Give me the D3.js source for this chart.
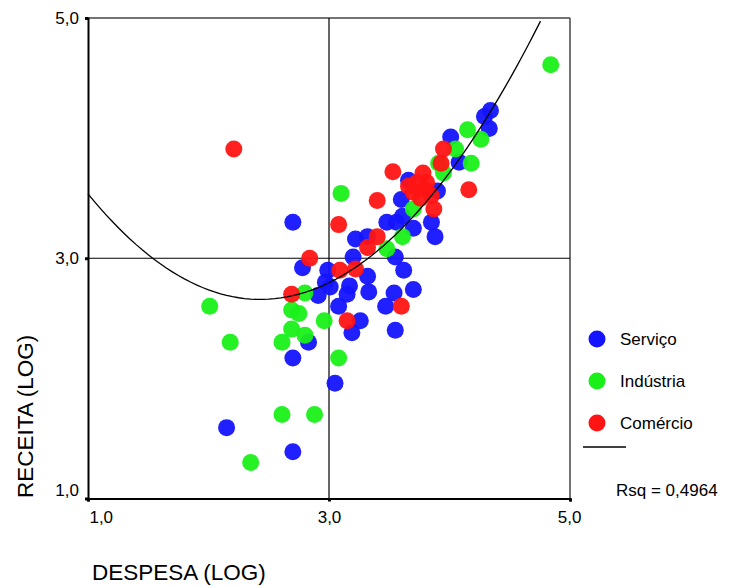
<!DOCTYPE html>
<html>
<head>
<meta charset="utf-8">
<script src="https://cdn.jsdelivr.net/npm/d3@7"></script>
<style>
  body { margin: 0; background: #fff; }
  svg { display: block; font-family: "Liberation Sans", Arial, sans-serif; }
</style>
</head>
<body>
<svg id="chart" width="731" height="586"></svg>
<script>
// ---- data (log despesa, log receita) ----
const servicoX = [2.70,4.34,4.29,4.33,4.01,4.08,3.90,3.85,3.88,3.48,3.56,3.70,3.22,3.32,3.20,3.55,3.60,3.66,3.61,2.78,2.99,3.62,3.32,2.97,2.91,3.17,3.33,3.15,3.54,3.70,3.08,3.47,3.26,3.19,3.55,2.83,3.05,2.70,2.15,2.70,3.01];
const servicoY = [3.30,4.23,4.18,4.08,4.01,3.80,3.56,3.30,3.18,3.30,3.30,3.25,3.16,3.18,3.01,3.01,3.49,3.65,3.35,2.92,2.90,2.90,2.85,2.80,2.69,2.77,2.72,2.70,2.71,2.74,2.60,2.60,2.48,2.38,2.40,2.30,1.96,2.17,1.59,1.39,2.76];
const industriaX = [4.84,4.15,4.26,4.05,3.91,4.18,3.95,3.10,3.70,3.61,3.48,2.80,2.01,2.69,2.75,2.96,2.69,2.80,2.18,2.61,3.08,2.61,2.88,2.35];
const industriaY = [4.61,4.07,3.99,3.91,3.79,3.79,3.71,3.54,3.41,3.18,3.08,2.71,2.60,2.57,2.54,2.48,2.41,2.36,2.30,2.30,2.17,1.70,1.70,1.30];
const comercioX = [2.21,3.95,3.93,3.53,3.78,4.16,3.40,3.08,3.87,3.40,3.32,2.84,3.09,3.22,2.69,3.60,3.15,3.73,3.81,3.70,3.80,3.76,3.85,3.66];
const comercioY = [3.91,3.91,3.79,3.72,3.71,3.57,3.48,3.28,3.41,3.18,3.09,3.00,2.90,2.91,2.70,2.60,2.48,3.63,3.63,3.55,3.57,3.50,3.52,3.60];

const seriesNames = ["Serviço", "Indústria", "Comércio"];
const seriesColors = ["#1414ff", "#19f019", "#ff1414"];

const tickValues = [1, 3, 5];
const tickLabels = ["1,0", "3,0", "5,0"];

// quadratic fit: y = b0 + b1*x + b2*x^2
const fitCoef = [5.193, -2.086, 0.429];
const fitRange = [1.0, 4.755];
const rsqLabel = "Rsq = 0,4964";

const xTitle = "DESPESA (LOG)";
const yTitle = "RECEITA (LOG)";

// ---- drawing ----
const svg = d3.select("#chart");
const L = 88, R = 570, T = 18, B = 498.5;
const x = d3.scaleLinear().domain([1, 5]).range([L, R]);
const y = d3.scaleLinear().domain([1, 5]).range([B, T]);

// frame (top/right)
svg.append("line").attr("x1", L).attr("x2", R).attr("y1", T).attr("y2", T)
  .attr("stroke", "#444").attr("stroke-width", 1.5);
svg.append("line").attr("x1", R).attr("x2", R).attr("y1", T).attr("y2", B)
  .attr("stroke", "#444").attr("stroke-width", 1.5);

// reference lines at 3
svg.append("line").attr("x1", x(3)).attr("x2", x(3)).attr("y1", T).attr("y2", B)
  .attr("stroke", "#000").attr("stroke-width", 1.2);
svg.append("line").attr("x1", L).attr("x2", R).attr("y1", y(3)).attr("y2", y(3))
  .attr("stroke", "#000").attr("stroke-width", 1.2);

// points
const series = [
  {xs: servicoX, ys: servicoY},
  {xs: industriaX, ys: industriaY},
  {xs: comercioX, ys: comercioY}
];
series.forEach((s, i) => {
  const pts = s.xs.map((v, j) => [v, s.ys[j]]);
  svg.append("g").selectAll("circle").data(pts).join("circle")
    .attr("cx", d => x(d[0])).attr("cy", d => y(d[1])).attr("r", 8.5)
    .attr("fill", seriesColors[i]).attr("fill-opacity", 0.95);
});

// fit curve
const fitPts = d3.range(fitRange[0], fitRange[1] + 1e-9, 0.05).concat([fitRange[1]])
  .map(v => [v, fitCoef[0] + fitCoef[1] * v + fitCoef[2] * v * v]);
svg.append("path").datum(fitPts)
  .attr("d", d3.line().x(d => x(d[0])).y(d => y(d[1])).curve(d3.curveLinear))
  .attr("fill", "none").attr("stroke", "#000").attr("stroke-width", 1.3);

// axes
const fmt = d => tickLabels[tickValues.indexOf(d)];
const yAxis = svg.append("g").attr("transform", `translate(${L},0)`)
  .call(d3.axisLeft(y).tickValues(tickValues).tickFormat(fmt).tickSize(3).tickPadding(6));
const xAxis = svg.append("g").attr("transform", `translate(0,${B})`)
  .call(d3.axisBottom(x).tickValues(tickValues).tickFormat(fmt).tickSize(3).tickPadding(9));
[yAxis, xAxis].forEach(a => {
  a.select(".domain").attr("stroke", "#000").attr("stroke-width", 2);
  a.selectAll(".tick line").attr("stroke", "#000").attr("stroke-width", 3);
  a.selectAll(".tick text").attr("font-size", 17).attr("fill", "#000")
    .attr("font-family", "Liberation Sans, Arial, sans-serif");
});
yAxis.selectAll(".tick text").filter(d => d === 1).attr("dy", "-0.2em");
xAxis.selectAll(".tick text").filter(d => d === 1).attr("dx", "0.75em");
xAxis.selectAll(".tick text").filter(d => d === 5).attr("dx", "-0.05em");

// axis titles
svg.append("text").attr("x", 92).attr("y", 580).attr("font-size", 22.5)
  .attr("fill", "#000").text(xTitle);
svg.append("text").attr("transform", "translate(33,498) rotate(-90)")
  .attr("font-size", 22.5).attr("fill", "#000").text(yTitle);

// legend
const legY = [339, 381, 423];
seriesNames.forEach((n, i) => {
  svg.append("circle").attr("cx", 597).attr("cy", legY[i]).attr("r", 8.5)
    .attr("fill", seriesColors[i]);
  svg.append("text").attr("x", 620).attr("y", legY[i] + 6).attr("font-size", 17)
    .attr("fill", "#000").text(n);
});
svg.append("line").attr("x1", 583).attr("x2", 626).attr("y1", 447).attr("y2", 447)
  .attr("stroke", "#000").attr("stroke-width", 1.3);
svg.append("text").attr("x", 616).attr("y", 496).attr("font-size", 17)
  .attr("fill", "#000").text(rsqLabel);
</script>
</body>
</html>
